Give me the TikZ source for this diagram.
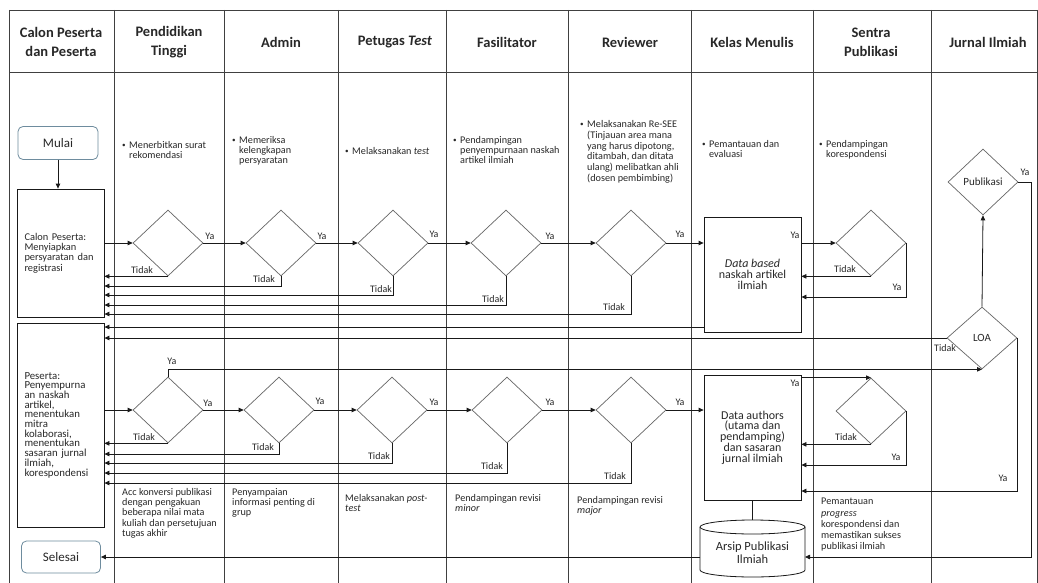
\documentclass[tikz,border=0pt]{standalone}
\usepackage{fontspec}
\setmainfont{Carlito}
\usetikzlibrary{arrows.meta,shapes.geometric}
\definecolor{termc}{RGB}{110,140,158}
\definecolor{txt}{RGB}{40,40,40}
\newcommand{\bulx}{\makebox[7pt][l]{\raisebox{0.8pt}{\scalebox{0.7}{\textbullet}}}}
\newcommand{\indx}{\hspace*{7pt}}
\begin{document}
\begin{tikzpicture}[x=1pt,y=-1pt,
  lane/.style={draw=black!75,line width=0.8pt},
  hdr/.style={font=\bfseries\fontsize{14.5}{19}\selectfont, align=center, text=txt, inner sep=0pt},
  dia/.style={diamond, draw=black!60, line width=0.7pt, minimum width=70pt, minimum height=66pt, inner sep=0pt, fill=white, font=\fontsize{11}{12}\selectfont, text=txt},
  bigbox/.style={draw=black!90, line width=0.8pt, fill=white, minimum width=87pt, inner xsep=7.5pt, text width=72pt, align=left, text=txt},
  cbox/.style={draw=black!90, line width=0.8pt, fill=white, minimum width=97pt, inner xsep=3pt, align=center, text=txt, font=\fontsize{12}{11.2}\selectfont},
  term/.style={draw=termc, line width=0.8pt, rounded corners=5pt, fill=white, font=\fontsize{13}{14}\selectfont, text=txt},
  flow/.style={draw=black!90, line width=0.8pt},
  arr/.style={flow, -{Triangle[length=5pt,width=4.5pt]}},
  lbl/.style={font=\fontsize{10}{11}\selectfont, inner sep=0pt, text=txt},
  note/.style={font=\fontsize{10.2}{10.3}\selectfont, align=left, inner sep=0pt, anchor=north west, text=txt},
]
\useasboundingbox (0,0) rectangle (1038,583);
\fill[white] (0,0) rectangle (1038,583);

% swimlanes
\draw[lane] (9,10) -- (1037,10);
\draw[lane] (9,72) -- (1037,72);
\foreach \xx in {9,114,224,338,446,568,691,813,931,1037}
  \draw[lane] (\xx,10) -- (\xx,583);

% headers
\node[hdr] (h1) at (61,42) {Calon Peserta\\dan Peserta};
\node[hdr] (h2) at (169,42) {Pendidikan\\Tinggi};
\node[hdr] (h3) at (281,42) {Admin};
\node[hdr] (h4) at (395,42) {Petugas \textit{Test}};
\node[hdr] (h5) at (507,42) {Fasilitator};
\node[hdr] (h6) at (630,42) {Reviewer};
\node[hdr] (h7) at (752,42) {Kelas Menulis};
\node[hdr] (h8) at (871,42) {Sentra\\Publikasi};
\node[hdr] (h9) at (988,42) {Jurnal Ilmiah};

% notes top
\node[note] (n1) at (122,141) {\bulx Menerbitkan surat\\\indx rekomendasi};
\node[note] (n2) at (232,136) {\bulx Memeriksa\\\indx kelengkapan\\\indx persyaratan};
\node[note] (n3) at (345,147) {\bulx Melaksanakan \textit{test}};
\node[note] (n4) at (453,136) {\bulx Pendampingan\\\indx penyempurnaan naskah\\\indx artikel ilmiah};
\node[note, font=\fontsize{10.2}{10.9}\selectfont] (n5) at (580,120) {\bulx Melaksanakan Re-SEE\\\indx (Tinjauan area mana\\\indx yang harus dipotong,\\\indx ditambah, dan ditata\\\indx ulang) melibatkan ahli\\\indx (dosen pembimbing)};
\node[note] (n6) at (702,140) {\bulx Pemantauan dan\\\indx evaluasi};
\node[note] (n7) at (819,140) {\bulx Pendampingan\\\indx korespondensi};

% notes bottom
\node[note] (b1) at (122,488) {Acc konversi publikasi\\dengan pengakuan\\beberapa nilai mata\\kuliah dan persetujuan\\tugas akhir};
\node[note] (b2) at (232,488) {Penyampaian\\informasi penting di\\grup};
\node[note] (b3) at (345,494) {Melaksanakan \textit{post-}\\\textit{test}};
\node[note] (b4) at (455,494) {Pendampingan revisi\\\textit{minor}};
\node[note] (b5) at (577,496) {Pendampingan revisi\\\textit{major}};
\node[note, font=\fontsize{10.2}{11.3}\selectfont] (b6) at (821,498) {Pemantauan\\\textit{progress}\\korespondensi dan\\memastikan sukses\\publikasi ilmiah};

% terminals and boxes
\node[term, minimum width=80pt, minimum height=33pt] (mulai) at (58,143) {Mulai};
\node[term, minimum width=79pt, minimum height=32pt] (selesai) at (61,557) {Selesai};
\node[bigbox, minimum height=128pt, font=\fontsize{10.4}{10.2}\selectfont] (box1) at (60.5,253) {Calon Peserta:\\Menyiapkan\\persyaratan dan\\registrasi};
\node[bigbox, minimum height=204pt, font=\fontsize{10.8}{9.7}\selectfont] (box2) at (60.5,425) {Peserta:\\Penyempurna\\an naskah\\artikel,\\menentukan\\mitra\\kolaborasi,\\menentukan\\sasaran jurnal\\ilmiah,\\korespondensi};
\node[cbox, minimum height=115pt] (db) at (752.5,274.5) {\textit{Data based}\\naskah artikel\\ilmiah};
\node[cbox, minimum height=125pt, font=\fontsize{12}{10.8}\selectfont] (da) at (752.5,437.5) {Data authors\\(utama dan\\pendamping)\\dan sasaran\\jurnal ilmiah};

% archive cylinder
\draw[flow, fill=white] (700,527) -- (700,570) arc[start angle=180, end angle=360, x radius=52.5pt, y radius=7pt] -- (805,527);
\draw[flow, fill=white] (752.5,527) ellipse [x radius=52.5pt, y radius=7pt];
\node[font=\fontsize{12.5}{13}\selectfont, align=center, text=txt, inner sep=0pt] (arsip) at (752.5,553) {Arsip Publikasi\\Ilmiah};
\coordinate (arsipTop) at (752.5,520);
\coordinate (arsipL) at (700,557);
\coordinate (arsipR) at (805,557);

% diamonds
\node[dia] (d11) at (168,243) {};
\node[dia] (d12) at (281,243) {};
\node[dia] (d13) at (393,243) {};
\node[dia] (d14) at (506,243) {};
\node[dia] (d15) at (631,243) {};
\node[dia] (d16) at (871,243) {};
\node[dia] (d21) at (168,410) {};
\node[dia] (d22) at (279,410) {};
\node[dia] (d23) at (392,410) {};
\node[dia] (d24) at (507,410) {};
\node[dia] (d25) at (631,410) {};
\node[dia] (d27) at (871,411) {};
\node[dia] (pub) at (983,182) {Publikasi};
\node[dia, minimum height=62pt] (loa) at (982,338) {LOA};

% connectors
\draw[arr] (mulai.south) -- (mulai.south |- box1.north);
% row 1
\draw[arr] (box1.east |- d11.west) -- (d11.west);
\draw[arr] (d11.east) -- (d12.west);
\draw[arr] (d12.east) -- (d13.west);
\draw[arr] (d13.east) -- (d14.west);
\draw[arr] (d14.east) -- (d15.west);
\draw[arr] (d15.east) -- (d15.east -| db.west);
\draw[arr] (d11.south) -- (d11.south -| box1.east);
\draw[arr] (d12.south) |- (box1.east |- 0,286);
\draw[arr] (d13.south) |- (box1.east |- 0,295);
\draw[arr] (d14.south) |- (box1.east |- 0,305);
\draw[arr] (d15.south) |- (box1.east |- 0,314);
\draw[arr] (db.west |- 0,327) -- (box2.east |- 0,327);
\draw[arr] (loa.west) -- (loa.west -| box2.east);
\draw[arr] (db.east |- d16.west) -- (d16.west);
\draw[arr] (d16.south) -- (d16.south -| db.east);
\draw[arr] (d16.east) |- (db.east |- 0,297);
% journal
\draw[arr] (loa.north) -- (pub.south);
\draw[arr] (pub.east) -- (pub.east -| 1031,0) |- (arsipR);
\draw[arr] (loa.east) |- (da.east |- 0,491);
\draw[arr] (d21.north) |- (loa.south);
% row 2
\draw[arr] (box2.east |- d21.west) -- (d21.west);
\draw[arr] (d21.east) -- (d22.west);
\draw[arr] (d22.east) -- (d23.west);
\draw[arr] (d23.east) -- (d24.west);
\draw[arr] (d24.east) -- (d25.west);
\draw[arr] (d25.east) -- (d25.east -| da.west);
\draw[arr] (d21.south) -- (d21.south -| box2.east);
\draw[arr] (d22.south) |- (box2.east |- 0,454);
\draw[arr] (d23.south) |- (box2.east |- 0,463);
\draw[arr] (d24.south) |- (box2.east |- 0,473);
\draw[arr] (d25.south) |- (box2.east |- 0,483);
\draw[arr] (da.east |- d27.north) -- (d27.north);
\draw[arr] (d27.south) -- (d27.south -| da.east);
\draw[arr] (d27.east) |- (da.east |- 0,465);
\draw[flow] (da.south) -- (arsipTop);
\draw[arr] (arsipL) -- (selesai.east);

% labels
\node[lbl] (y11) at (210,236) {Ya};
\node[lbl] (y12) at (322,236) {Ya};
\node[lbl] (y13) at (434,234) {Ya};
\node[lbl] (y14) at (550,236) {Ya};
\node[lbl] (y15) at (680,234) {Ya};
\node[lbl] (t11) at (142,270) {Tidak};
\node[lbl] (t12) at (264,279) {Tidak};
\node[lbl] (t13) at (381,289) {Tidak};
\node[lbl] (t14) at (493,299) {Tidak};
\node[lbl] (t15) at (614,307) {Tidak};
\node[lbl] (ydb) at (795,235) {Ya};
\node[lbl] (t16) at (845,269) {Tidak};
\node[lbl] (y16) at (897,287) {Ya};
\node[lbl] (ypub) at (1025,172) {Ya};
\node[lbl] (tloa) at (945,348) {Tidak};
\node[lbl] (yloa) at (1003,478) {Ya};
\node[lbl] (yup) at (172,361) {Ya};
\node[lbl] (y21) at (208,403) {Ya};
\node[lbl] (y22) at (320,401) {Ya};
\node[lbl] (y23) at (434,402) {Ya};
\node[lbl] (y24) at (550,402) {Ya};
\node[lbl] (y25) at (680,402) {Ya};
\node[lbl] (t21) at (144,437) {Tidak};
\node[lbl] (t22) at (263,447) {Tidak};
\node[lbl] (t23) at (379,456) {Tidak};
\node[lbl] (t24) at (492,466) {Tidak};
\node[lbl] (t25) at (615,476) {Tidak};
\node[lbl] (yda) at (795,383) {Ya};
\node[lbl] (t27) at (846,437) {Tidak};
\node[lbl] (y27) at (896,457) {Ya};
\end{tikzpicture}
\end{document}
